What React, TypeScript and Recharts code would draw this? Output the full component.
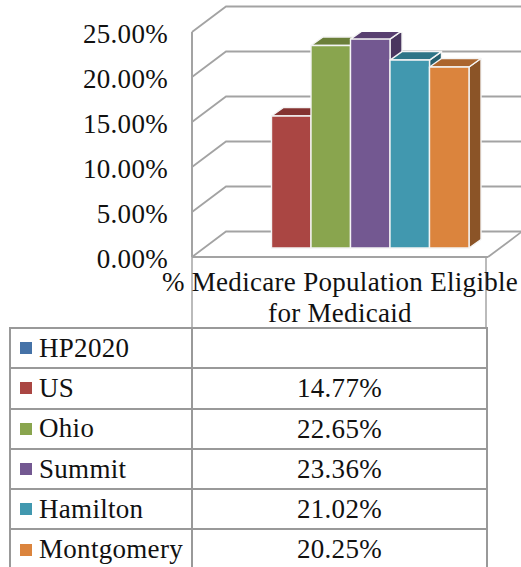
import { BarChart, Bar, CartesianGrid, XAxis, YAxis } from "recharts";

const categoryLines = ["% Medicare Population Eligible", "for Medicaid"];
const seriesNames = ["HP2020", "US", "Ohio", "Summit", "Hamilton", "Montgomery"];
const seriesValues = [null, 14.77, 22.65, 23.36, 21.02, 20.25];
const yTicks = [0, 5, 10, 15, 20, 25];

const frontColors = ["#4572A7", "#AA4643", "#89A54E", "#735891", "#4198AF", "#DB843D"];
const topColors = ["#365880", "#843331", "#6B7F3A", "#583F70", "#2E7587", "#AB652D"];
const sideColors = ["#2C4766", "#6E2A28", "#58692F", "#4A365F", "#265F6E", "#8B5427"];

const FONT = "'Liberation Serif', serif";
const FONT_SIZE = 27;
const SPACING = 0.3;
const GRID = "#a3a3a3";
const LEFT = 192;
const RIGHT = 488;
const TOP = 32;
const BOTTOM = 257;
const DEPTH_X = 34;
const DEPTH_Y = 25.5;

const chartData = [
  {
    name: categoryLines.join(" "),
    ...Object.fromEntries(seriesNames.map((n, i) => [n, seriesValues[i]])),
  },
];

function fmt(v: number | null) {
  return v == null ? "" : v.toFixed(2) + "%";
}

// grid line: side wall diagonal + back wall line, the floor also gets its right edge
function renderWallLine(props: any) {
  const { y1: y, index } = props;
  const by = y - DEPTH_Y;
  return (
    <g key={`wall-${y}-${index}`}>
      <polyline
        points={`${LEFT},${y} ${LEFT + DEPTH_X},${by} ${RIGHT + DEPTH_X},${by}`}
        fill="none"
        stroke={GRID}
        strokeWidth={1.8}
      />
      {y >= BOTTOM - 1 && (
        <line x1={RIGHT} y1={y} x2={RIGHT + DEPTH_X} y2={by} stroke={GRID} strokeWidth={1.8} />
      )}
    </g>
  );
}

function renderCategoryTick() {
  const cx = (LEFT + RIGHT) / 2;
  return (
    <text textAnchor="middle" fontFamily={FONT} fontSize={FONT_SIZE} letterSpacing={SPACING} fill="#111">
      <tspan x={cx} y={291}>{categoryLines[0]}</tspan>
      <tspan x={cx} y={322}>{categoryLines[1]}</tspan>
    </text>
  );
}

function Bar3D(props: any) {
  const { x, y, width, height, fi } = props;
  if (!height) return null;
  const dx = 12;
  const dy = 8.5;
  const edge = { stroke: "#f4f4f4", strokeWidth: 1.4, strokeLinejoin: "round" as const };
  return (
    <g>
      <polygon
        points={`${x + width},${y} ${x + width + dx},${y - dy} ${x + width + dx},${y + height - dy} ${x + width},${y + height}`}
        fill={sideColors[fi]}
        {...edge}
      />
      <polygon
        points={`${x},${y} ${x + dx},${y - dy} ${x + width + dx},${y - dy} ${x + width},${y}`}
        fill={topColors[fi]}
        {...edge}
      />
      <rect x={x} y={y} width={width} height={height} fill={frontColors[fi]} {...edge} />
    </g>
  );
}

const TABLE_LINE = "2px solid #999";

function DataTable() {
  return (
    <div
      style={{
        position: "absolute",
        left: 9,
        top: 327,
        width: 479,
        fontFamily: FONT,
        fontSize: FONT_SIZE,
        letterSpacing: SPACING,
        color: "#111",
        borderLeft: TABLE_LINE,
        borderRight: TABLE_LINE,
        borderTop: TABLE_LINE,
        boxSizing: "border-box",
      }}
    >
      {seriesNames.map((name, i) => (
        <div
          key={name}
          style={{ display: "flex", height: 40.3, boxSizing: "border-box", borderBottom: TABLE_LINE }}
        >
          <div
            style={{
              width: 182,
              borderRight: TABLE_LINE,
              boxSizing: "border-box",
              display: "flex",
              alignItems: "center",
              whiteSpace: "nowrap",
            }}
          >
            <span
              style={{ width: 12, height: 12, marginLeft: 9, marginRight: 7, background: frontColors[i], flex: "none" }}
            />
            {name}
          </div>
          <div style={{ flex: 1, textAlign: "center", lineHeight: "39px" }}>{fmt(seriesValues[i])}</div>
        </div>
      ))}
    </div>
  );
}

export default function App() {
  return (
    <div style={{ position: "absolute", left: 0, top: 0, width: 521, height: 567, overflow: "hidden", background: "#fff" }}>
      <div
        style={{
          position: "absolute",
          left: LEFT - 1,
          top: BOTTOM,
          width: RIGHT - LEFT,
          height: 71,
          boxSizing: "border-box",
          borderLeft: "2px solid #bbb",
          borderRight: "2px solid #bbb",
        }}
      />
      <BarChart
        width={521}
        height={567}
        data={chartData}
        margin={{ top: TOP, right: 521 - RIGHT, bottom: 567 - BOTTOM - 70, left: 0 }}
        barCategoryGap={0}
        barGap={0}
        barSize={39.5}
        style={{ position: "absolute", left: 0, top: 0 }}
      >
        <CartesianGrid
          yAxisId="front"
          vertical={false}
          horizontal={renderWallLine}
          horizontalValues={yTicks}
        />
        <XAxis
          dataKey="name"
          height={70}
          padding={{ left: 40, right: 18.5 }}
          axisLine={{ stroke: GRID, strokeWidth: 2 }}
          tickLine={false}
          tick={renderCategoryTick}
          interval={0}
        />
        <YAxis
          yAxisId="front"
          width={LEFT}
          domain={[0, 25]}
          ticks={yTicks}
          allowDataOverflow
          axisLine={{ stroke: GRID, strokeWidth: 2 }}
          tickLine={false}
          tickMargin={18}
          tick={{ fontFamily: FONT, fontSize: FONT_SIZE, fill: "#111", letterSpacing: SPACING, dy: 1 }}
          tickFormatter={(v: number) => v.toFixed(2) + "%"}
          interval={0}
        />
        <YAxis yAxisId="bars" hide width={0} domain={[-1.007, 24.16]} allowDataOverflow />
        {seriesNames.map((name, i) => (
          <Bar
            key={name}
            yAxisId="bars"
            dataKey={name}
            isAnimationActive={false}
            shape={(p: any) => <Bar3D {...p} fi={i} />}
          />
        ))}
      </BarChart>
      <DataTable />
    </div>
  );
}
